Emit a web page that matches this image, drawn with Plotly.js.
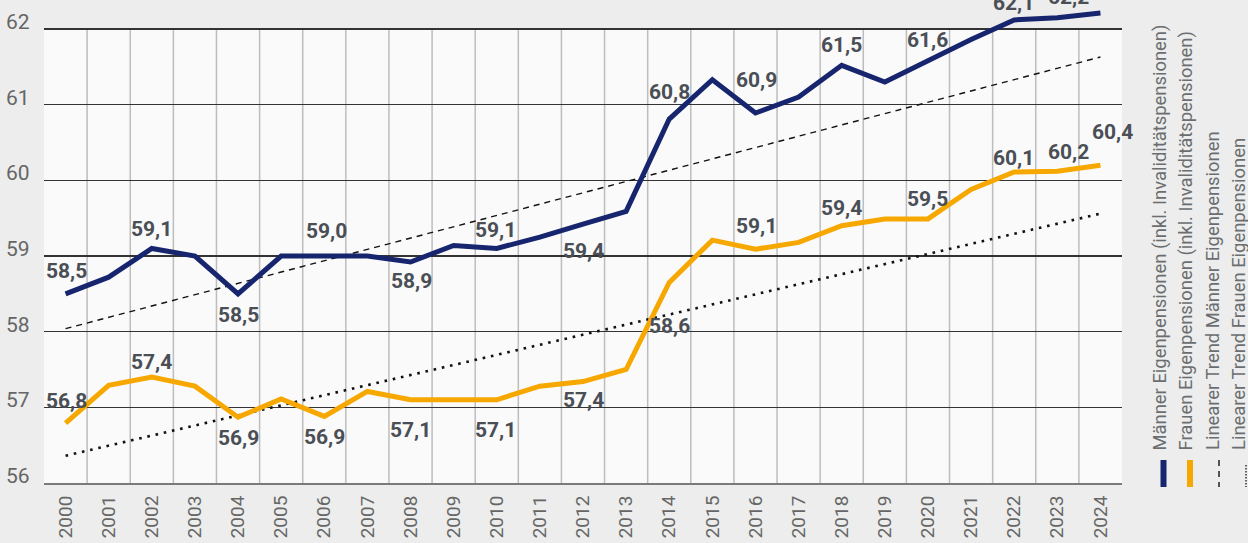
<!DOCTYPE html>
<html>
<head>
<meta charset="utf-8">
<script src="https://cdn.plot.ly/plotly-3.0.1.min.js"></script>
<style>html,body{margin:0;padding:0;background:#ecedec;}#chart{width:1248px;height:543px;}</style>
</head>
<body>
<div id="chart"></div>
<script>
// ---- data ----
const years = [2000, 2001, 2002, 2003, 2004, 2005, 2006, 2007, 2008, 2009, 2010, 2011, 2012,
  2013, 2014, 2015, 2016, 2017, 2018, 2019, 2020, 2021, 2022, 2023, 2024];
const yearLabels = years.map(String);
const menValues = [58.5, 58.72, 59.1, 59.0, 58.5, 59.0, 59.0, 59.0, 58.92, 59.14, 59.1, 59.25, 59.42,
  59.59, 60.81, 61.33, 60.89, 61.1, 61.52, 61.3, 61.58, 61.86, 62.12, 62.15, 62.21];
const womenValues = [56.79, 57.29, 57.4, 57.28, 56.87, 57.11, 56.88, 57.21, 57.1, 57.1, 57.1, 57.28, 57.34,
  57.5, 58.65, 59.21, 59.09, 59.18, 59.4, 59.49, 59.49, 59.88, 60.11, 60.12, 60.2];
const menLabels = ['58,5', '', '59,1', '', '58,5', '', '59,0', '', '58,9', '', '59,1', '', '59,4',
  '', '60,8', '', '60,9', '', '61,5', '', '61,6', '', '62,1', '62,2', ''];
const womenLabels = ['56,8', '', '57,4', '', '56,9', '', '56,9', '', '57,1', '', '57,1', '', '57,4',
  '', '58,6', '', '59,1', '', '59,4', '', '59,5', '', '60,1', '60,2', '60,4'];
const trendYears = [2000, 2024];
const menTrend = [58.04, 61.63];
const womenTrend = [56.36, 59.56];
const yTicks = [56, 57, 58, 59, 60, 61, 62];
const yTickLabels = ['56', '57', '58', '59', '60', '61', '62'];
const seriesNames = [
  'Männer Eigenpensionen (inkl. Invaliditätspensionen)',
  'Frauen Eigenpensionen (inkl. Invaliditätspensionen)',
  'Linearer Trend Männer Eigenpensionen',
  'Linearer Trend Frauen Eigenpensionen'
];

// ---- styling / layout ----
const NAVY = '#16256e', ORANGE = '#f7a800';
const W = 1248, H = 543, ML = 44, MR = 126, MT = 0, MB = 60;
const PW = W - ML - MR, PH = H - MT - MB;
const px2x = p => (p - ML) / PW;
const px2y = p => (MT + PH - p) / PH;
const LABEL_FONT = {family: 'Roboto, sans-serif', size: 21, color: '#4a4f56', weight: 700};

// label offsets in px (dx, dy) relative to the data point, per year index
const menOff = {0:[1,23],2:[0,19],4:[0,-21],6:[2,25],8:[1,-19],10:[-1,18],12:[0,-27],14:[0,27],
  16:[1,33],18:[0,20],20:[0,21],22:[-1,17],23:[11,21]};
const womenOff = {0:[1,22],2:[0,15],4:[0,-21],6:[0,-21],8:[0,-30],10:[-1,-30],12:[0,-18],14:[0,-44],
  16:[1,23],18:[0,18],20:[0,20],22:[-1,14],23:[11,19],24:[12,33]};

const annotations = [];
function addLabels(labels, values, off) {
  labels.forEach((t, i) => {
    if (!t) return;
    const o = off[i] || [0, 20];
    annotations.push({x: years[i], y: values[i], xref: 'x', yref: 'y', text: t, showarrow: false,
      xanchor: 'center', yanchor: 'middle', xshift: o[0], yshift: o[1], font: LABEL_FONT});
  });
}
addLabels(menLabels, menValues, menOff);
addLabels(womenLabels, womenValues, womenOff);

// y tick labels (placed through the y scale, sitting slightly above their grid line)
yTicks.forEach((v, i) => {
  annotations.push({x: 0, xref: 'paper', y: v, yref: 'y', text: yTickLabels[i], showarrow: false,
    xanchor: 'right', yanchor: 'middle', xshift: -12, yshift: 7,
    font: {family: 'Roboto, sans-serif', size: 21, color: '#666'}});
});

// legend (rotated)
const legendCols = [1159, 1185.5, 1212, 1238.5];
seriesNames.forEach((n, i) => {
  annotations.push({x: px2x(legendCols[i]), y: px2y(452.5), xref: 'paper', yref: 'paper', text: n,
    showarrow: false, textangle: -90, xanchor: 'center', yanchor: 'bottom',
    font: {family: 'Roboto, sans-serif', size: 18.4, color: '#6b6d70'}});
});

const shapes = [];
// plot area background
shapes.push({type: 'rect', xref: 'paper', yref: 'y', x0: 0, x1: 1, y0: 56, y1: 62,
  fillcolor: '#fafafa', line: {width: 0}, layer: 'below'});
// vertical separators between years
for (let i = 0; i < years.length - 1; i++) {
  shapes.push({type: 'line', xref: 'x', yref: 'y', x0: years[i] + 0.5, x1: years[i] + 0.5, y0: 56, y1: 62,
    line: {color: '#bdbdbd', width: 1.5}, layer: 'below'});
}
// legend symbols
const symX = [1163.5, 1190, 1219, 1246];
shapes.push({type: 'line', xref: 'paper', yref: 'paper', x0: px2x(symX[0]), x1: px2x(symX[0]), y0: px2y(460), y1: px2y(487), line: {color: NAVY, width: 6}});
shapes.push({type: 'line', xref: 'paper', yref: 'paper', x0: px2x(symX[1]), x1: px2x(symX[1]), y0: px2y(460), y1: px2y(487), line: {color: ORANGE, width: 6}});
shapes.push({type: 'line', xref: 'paper', yref: 'paper', x0: px2x(symX[2]), x1: px2x(symX[2]), y0: px2y(460), y1: px2y(487), line: {color: '#222', width: 1.5, dash: '6px,5px'}});
shapes.push({type: 'line', xref: 'paper', yref: 'paper', x0: px2x(symX[3]), x1: px2x(symX[3]), y0: px2y(465), y1: px2y(487), line: {color: '#333', width: 1.5, dash: '1.5px,1.5px'}});

const traces = [
  {x: trendYears, y: menTrend, mode: 'lines', name: seriesNames[2], line: {color: '#111', width: 1.4, dash: '6px,5px'}, hoverinfo: 'skip'},
  {x: trendYears, y: womenTrend, mode: 'lines', name: seriesNames[3], line: {color: '#111', width: 2.6, dash: '2.6px,5.8px'}, hoverinfo: 'skip'},
  {x: years, y: menValues, mode: 'lines', name: seriesNames[0], line: {color: NAVY, width: 5}},
  {x: years, y: womenValues, mode: 'lines', name: seriesNames[1], line: {color: ORANGE, width: 5}}
];

const layout = {
  width: W, height: H,
  margin: {l: ML, r: MR, t: MT, b: MB, pad: 0, autoexpand: false},
  paper_bgcolor: '#ecedec', plot_bgcolor: '#ecedec',
  showlegend: false,
  font: {family: 'Roboto, sans-serif'},
  xaxis: {range: [1999.5, 2024.5], tickvals: years, ticktext: yearLabels, tickangle: -90, automargin: false,
    showgrid: false, zeroline: false, showline: true, linecolor: '#7a7a7a', linewidth: 2,
    ticks: '', ticklabelstandoff: 3, tickfont: {family: 'Roboto, sans-serif', size: 19, color: '#666'}},
  yaxis: {range: [56, 62 + 29 / 75.67], tickvals: yTicks, showticklabels: false, automargin: false,
    showgrid: true, gridcolor: '#333', gridwidth: 1.2, zeroline: false, showline: false, ticks: ''},
  shapes: shapes,
  annotations: annotations
};

Plotly.newPlot('chart', traces, layout, {displayModeBar: false, staticPlot: true});
</script>
</body>
</html>
